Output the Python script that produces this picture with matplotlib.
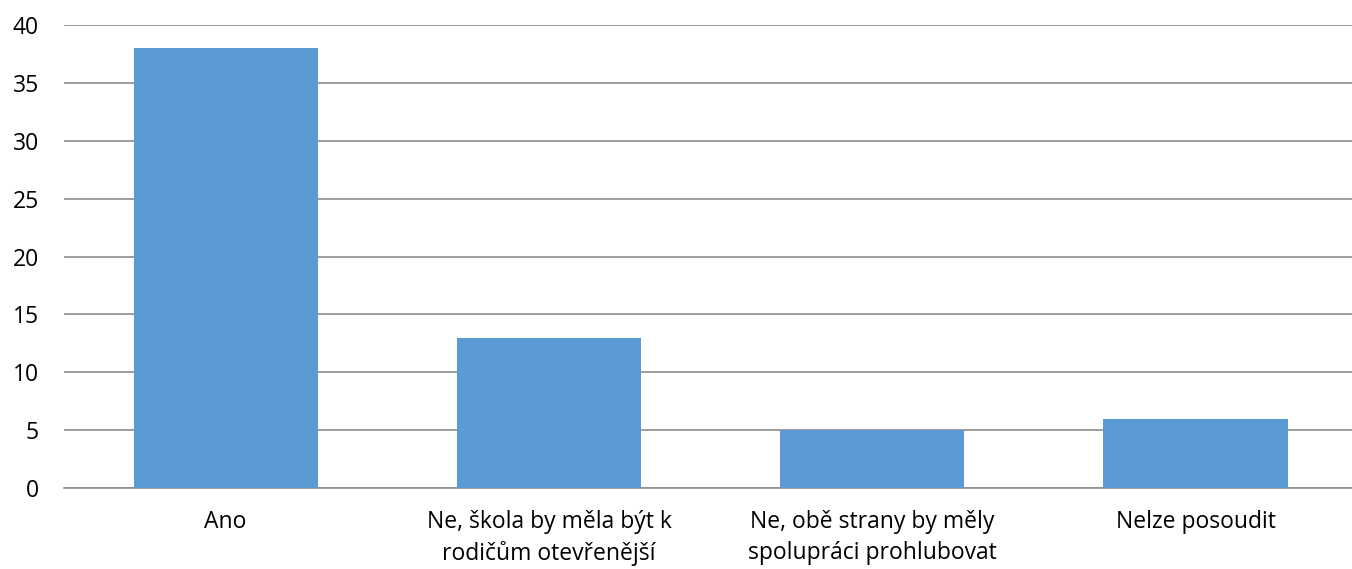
import matplotlib
matplotlib.use("Agg")
import matplotlib.pyplot as plt

categories = ["Ano", "Ne, škola by měla být k\nrodičům otevřenější",
              "Ne, obě strany by měly\nspolupráci prohlubovat", "Nelze posoudit"]
values = [38, 13, 5, 6]
yticks = [0, 5, 10, 15, 20, 25, 30, 35, 40]

plt.rcParams['font.family'] = ['Open Sans', 'DejaVu Sans']

W, H = 1352, 569
fig = plt.figure(figsize=(W/100, H/100), dpi=100)
left, bottom, top = 64, 488, 25
ax = fig.add_axes([left/W, 1-bottom/H, (W-left)/W, (bottom-top)/H])
x = list(range(len(categories)))
ax.bar(x, values, width=0.57, color="#5B9BD5", zorder=3)
ax.set_xlim(-0.5, -0.5 + (W-left)/323.3)
ax.set_ylim(0, 40)
ax.set_yticks(yticks)
ax.set_yticklabels([str(v) for v in yticks])
ax.set_xticks(x)
ax.set_xticklabels(categories, linespacing=1.35)
ax.grid(axis='y', color="#8C8C8C", linewidth=1.2, zorder=0)
for s in ['top', 'right', 'left']:
    ax.spines[s].set_visible(False)
ax.spines['bottom'].set_color("#8C8C8C")
ax.spines['bottom'].set_linewidth(1.2)
ax.tick_params(axis='both', length=0, labelsize=16.5, colors='black')
ax.tick_params(axis='y', pad=18)
ax.tick_params(axis='x', pad=16)
fig.savefig("out.png", dpi=100)
